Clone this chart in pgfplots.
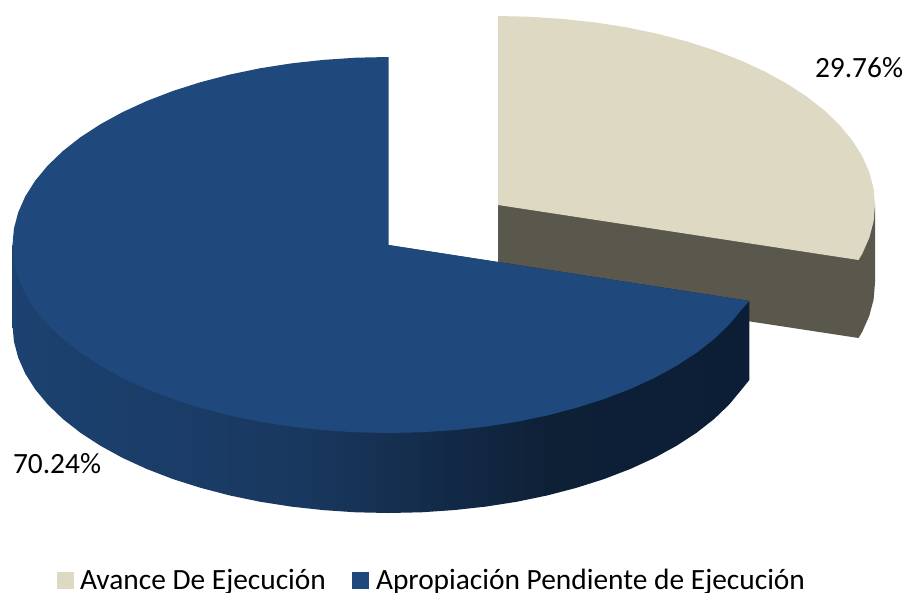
\documentclass[border=0pt]{standalone}
\usepackage{fontspec}
\setmainfont{Carlito}
\usepackage{pgfplots}
\pgfplotsset{compat=1.18}
\definecolor{beige}{HTML}{DDD9C3}
\definecolor{beigeside}{HTML}{5A574D}
\definecolor{azul}{HTML}{1F497D}
\pgfdeclarehorizontalshading{ladoazul}{100bp}{
	color(0bp)=(azul!90!black);
	color(25bp)=(azul!90!black);
	rgb(44.5bp)=(0.098,0.220,0.373);
	rgb(61.5bp)=(0.055,0.125,0.212);
	rgb(75bp)=(0.043,0.118,0.212);
	rgb(100bp)=(0.043,0.118,0.212)}
\tikzset{lbl/.style={anchor=base west,inner sep=0pt,outer sep=0pt,text=black,font=\fontsize{29.4}{32}\selectfont}}
\begin{document}
\begin{tikzpicture}
\clip (0,0) rectangle (904pt,592pt);
\begin{axis}[
	hide axis,
	scale only axis,
	width=904pt,
	height=592pt,
	xmin=0, xmax=904,
	ymin=0, ymax=592,
	y dir=reverse,
	anchor=south west,
	at={(0,0)}
]
% 29.76 slice, side first
\addplot[fill=beigeside,draw=none] coordinates {
(498,205) (875,205) (875,283) (873.6,299.5) (869.3,315.8) (862.2,331.9) (858.5,338) (498,283)
} --cycle;
\addplot[fill=beige,draw=none] coordinates {
(498,205) (498,16) (530.9,16.8) (563.5,19) (595.6,22.5) (627,27.4) (657.3,33.7) (686.5,41.4)
(714.3,50.2) (740.4,60.3) (764.6,71.4) (786.8,83.6) (806.8,96.7) (824.5,110.5) (839.7,125.2)
(852.2,140.4) (862.2,156.1) (869.3,172.2) (873.6,188.5) (875,205) (873.6,221.5) (869.3,237.8)
(862.2,253.9) (858.5,260)
} --cycle;
% 70.24 slice, side first
\addplot[shading=ladoazul,draw=none] coordinates {
(388.5,245) (12.5,245) (12.5,325) (13.9,341.4) (18.2,357.6) (25.3,373.7) (35.2,389.3) (47.7,404.4)
(62.9,419) (80.5,432.8) (100.5,445.8) (122.6,457.9) (146.8,469) (172.8,479) (200.5,487.8)
(229.6,495.4) (259.9,501.7) (291.2,506.6) (323.2,510.1) (355.7,512.3) (388.5,513) (421.3,512.3)
(453.8,510.1) (485.8,506.6) (517.1,501.7) (547.4,495.4) (576.5,487.8) (604.2,479) (630.2,469)
(654.4,457.9) (676.5,445.8) (696.5,432.8) (714.1,419) (729.3,404.4) (741.8,389.3) (749.3,380)
(749.3,301)
} --cycle;
\addplot[fill=azul,draw=none] coordinates {
(388.5,245) (388.5,57) (355.7,57.7) (323.2,59.9) (291.2,63.4) (259.9,68.3) (229.6,74.6) (200.5,82.2)
(172.8,91) (146.8,101) (122.6,112.1) (100.5,124.2) (80.5,137.2) (62.9,151) (47.7,165.6) (35.2,180.7)
(25.3,196.3) (18.2,212.4) (13.9,228.6) (12.5,245) (13.9,261.4) (18.2,277.6) (25.3,293.7) (35.2,309.3)
(47.7,324.4) (62.9,339) (80.5,352.8) (100.5,365.8) (122.6,377.9) (146.8,389) (172.8,399) (200.5,407.8)
(229.6,415.4) (259.9,421.7) (291.2,426.6) (323.2,430.1) (355.7,432.3) (388.5,433) (421.3,432.3)
(453.8,430.1) (485.8,426.6) (517.1,421.7) (547.4,415.4) (576.5,407.8) (604.2,399) (630.2,389)
(654.4,377.9) (676.5,365.8) (696.5,352.8) (714.1,339) (729.3,324.4) (741.8,309.3) (749.3,301)
} --cycle;
% legend keys
\addplot[fill=beige,draw=none] coordinates {(57.3,572) (74,572) (74,589) (57.3,589)} --cycle;
\addplot[fill=azul,draw=none] coordinates {(352,572) (369,572) (369,589) (352,589)} --cycle;
\node[lbl] at (axis cs:815,77) {29.76\%};
\node[lbl] at (axis cs:13,473) {70.24\%};
\node[lbl] at (axis cs:80,589) {Avance De Ejecución};
\node[lbl] at (axis cs:376,589) {Apropiación Pendiente de Ejecución};
\end{axis}
\end{tikzpicture}
\end{document}
